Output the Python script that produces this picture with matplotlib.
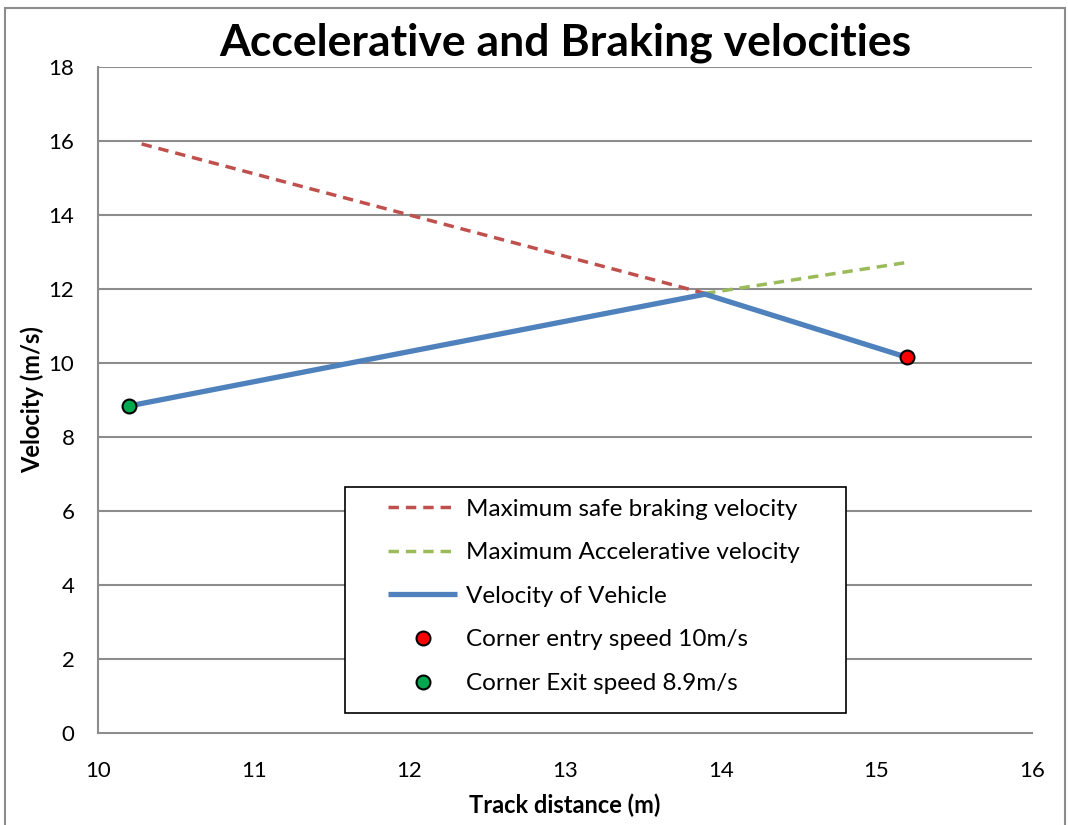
import numpy as np
import matplotlib
matplotlib.use('Agg')
import matplotlib.pyplot as plt
from matplotlib.patches import Rectangle

plt.rcParams['font.family'] = ['Lato', 'DejaVu Sans']

# track distance (m) / velocity (m/s)
braking_x = [10.28, 13.9]
braking_v = [15.92, 11.88]
accel_x = [13.9, 15.2]
accel_v = [11.88, 12.72]
vehicle_x = [10.2, 13.9, 15.2]
vehicle_v = [8.84, 11.86, 10.15]
entry_x = [15.2]
entry_v = [10.15]
exit_x = [10.2]
exit_v = [8.84]

fig = plt.figure(figsize=(10.68, 8.25), dpi=100)
ax = fig.add_axes([0.0918, 0.1115, 0.8745, 0.8073])

grid_col = '#8c8c8c'
for yv in range(2, 19, 2):
    ax.axhline(yv, color=grid_col, lw=1.5, zorder=0)

ax.plot(braking_x, braking_v, color='#c0504d', lw=2.5, ls=(0, (3, 2)),
        label='Maximum safe braking velocity', zorder=2)
ax.plot(accel_x, accel_v, color='#9bbb59', lw=2.5, ls=(0, (3, 2)),
        label='Maximum Accelerative velocity', zorder=2)
ax.plot(vehicle_x, vehicle_v, color='#4f81bd', lw=3.8, solid_capstyle='butt',
        label='Velocity of Vehicle', zorder=3)
ax.plot(entry_x, entry_v, ls='none', marker='o', ms=10, mfc='#ff0000', mec='black',
        mew=1.5, label='Corner entry speed 10m/s', zorder=4)
ax.plot(exit_x, exit_v, ls='none', marker='o', ms=10, mfc='#00a84f', mec='black',
        mew=1.5, label='Corner Exit speed 8.9m/s', zorder=4)

ax.set_xlim(10, 16)
ax.set_ylim(0, 18)
ax.set_xticks(range(10, 17))
ax.set_yticks(range(0, 19, 2))
ax.tick_params(labelsize=16, length=0)
ax.tick_params(axis='y', pad=17)
ax.tick_params(axis='x', pad=20)
for s in ['top', 'right']:
    ax.spines[s].set_visible(False)
for s in ['left', 'bottom']:
    ax.spines[s].set_color(grid_col)
    ax.spines[s].set_linewidth(1.5)

ax.set_xlabel('Track distance (m)', fontsize=17, fontweight='bold', labelpad=9)
ax.set_ylabel('Velocity (m/s)', fontsize=17, fontweight='bold', labelpad=3)
ax.set_title('Accelerative and Braking velocities', fontsize=32, fontweight='bold', pad=8)

# legend box drawn separately so the padding can be wider than tall
ax.add_patch(Rectangle((0.2645, 0.030), 0.536, 0.339, transform=ax.transAxes,
                       facecolor='white', edgecolor='black', lw=1.2, zorder=5))
leg = ax.legend(loc='upper left', bbox_to_anchor=(0.3105, 0.352),
                fontsize=17.5, frameon=False, handlelength=2.85,
                labelspacing=0.93, borderpad=0, borderaxespad=0,
                handletextpad=0.35)
leg.set_zorder(6)

# outer chart border
fig.patches.append(Rectangle((0.005, -0.01), 0.992, 1.0, transform=fig.transFigure,
                             fill=False, edgecolor='#8c8c8c', lw=1.5))

fig.savefig('out.png', dpi=100)
